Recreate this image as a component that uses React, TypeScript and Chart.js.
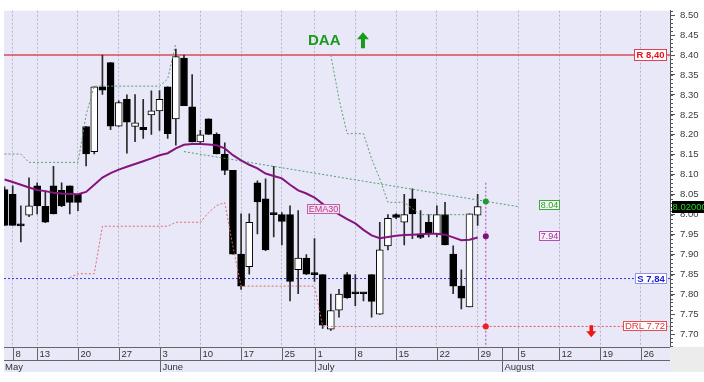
import React, { useEffect, useRef } from "react";
import { Chart, registerables } from "chart.js";

Chart.register(...registerables);

const FONT = '"Liberation Sans", Arial, Helvetica, sans-serif';
const PLOT_BG = "#e8e8f8";
const AXIS = "#555555";

// Trading calendar (visible history + projected weeks)
const tradingDays: string[] = [
  "2019-05-07", "2019-05-08", "2019-05-09", "2019-05-10",
  "2019-05-13", "2019-05-14", "2019-05-15", "2019-05-16", "2019-05-17",
  "2019-05-20", "2019-05-21", "2019-05-22", "2019-05-23", "2019-05-24",
  "2019-05-27", "2019-05-28", "2019-05-29", "2019-05-30", "2019-05-31",
  "2019-06-03", "2019-06-04", "2019-06-05", "2019-06-06", "2019-06-07",
  "2019-06-10", "2019-06-11", "2019-06-12", "2019-06-13", "2019-06-14",
  "2019-06-17", "2019-06-18", "2019-06-19", "2019-06-20", "2019-06-21",
  "2019-06-25", "2019-06-26", "2019-06-27", "2019-06-28",
  "2019-07-01", "2019-07-02", "2019-07-03", "2019-07-04", "2019-07-05",
  "2019-07-08", "2019-07-09", "2019-07-10", "2019-07-11", "2019-07-12",
  "2019-07-15", "2019-07-16", "2019-07-17", "2019-07-18", "2019-07-19",
  "2019-07-22", "2019-07-23", "2019-07-24", "2019-07-25", "2019-07-26",
  "2019-07-29", "2019-07-30", "2019-07-31", "2019-08-01", "2019-08-02",
  "2019-08-05", "2019-08-06", "2019-08-07", "2019-08-08", "2019-08-09",
  "2019-08-12", "2019-08-13", "2019-08-14", "2019-08-15", "2019-08-16",
  "2019-08-19", "2019-08-20", "2019-08-21", "2019-08-22", "2019-08-23",
  "2019-08-26", "2019-08-27", "2019-08-28", "2019-08-29", "2019-08-30",
];

// OHLC, one per trading day from 2019-05-07 to 2019-07-29
const opens = [
  8.063, 8.051, 7.975, 7.999, 8.072, 8.021, 8.072, 8.061, 8.072, 8.051,
  8.221, 8.158, 8.320, 8.381, 8.222, 8.289, 8.221, 8.219, 8.250, 8.260,
  8.320, 8.240, 8.392, 8.270, 8.182, 8.240, 8.201, 8.152, 8.111, 7.901,
  7.870, 8.080, 8.040, 8.003, 8.000, 8.000, 7.862, 7.891, 7.853, 7.850,
  7.713, 7.761, 7.850, 7.805, 7.805, 7.850, 7.751, 7.922, 8.000, 7.981,
  8.040, 7.945, 7.981, 7.952, 8.000, 7.901, 7.821, 7.769, 7.999,
];
const highs = [
  8.070, 8.072, 8.022, 8.092, 8.080, 8.059, 8.121, 8.080, 8.072, 8.051,
  8.221, 8.320, 8.400, 8.381, 8.285, 8.300, 8.301, 8.289, 8.310, 8.311,
  8.320, 8.415, 8.400, 8.351, 8.211, 8.240, 8.205, 8.180, 8.111, 8.002,
  8.002, 8.085, 8.090, 8.121, 8.005, 8.022, 8.010, 7.900, 7.940, 7.850,
  7.801, 7.813, 7.855, 7.850, 7.805, 7.850, 7.981, 8.000, 8.003, 8.051,
  8.065, 8.010, 8.000, 8.022, 8.031, 7.922, 7.862, 8.002, 8.051,
];
const lows = [
  7.973, 7.973, 7.932, 7.995, 8.002, 7.980, 8.002, 8.020, 8.002, 8.010,
  8.122, 8.152, 8.301, 8.213, 8.221, 8.154, 8.183, 8.191, 8.201, 8.211,
  8.191, 8.174, 8.273, 8.182, 8.180, 8.201, 8.152, 8.100, 7.901, 7.813,
  7.851, 7.952, 7.910, 7.944, 7.924, 7.784, 7.802, 7.850, 7.833, 7.715,
  7.710, 7.743, 7.790, 7.772, 7.784, 7.743, 7.750, 7.912, 7.990, 7.924,
  7.940, 7.940, 7.944, 7.944, 7.924, 7.802, 7.764, 7.769, 7.973,
];
const closes = [
  7.973, 7.973, 7.972, 8.022, 8.022, 7.981, 8.002, 8.022, 8.031, 8.031,
  8.152, 8.320, 8.312, 8.222, 8.281, 8.232, 8.230, 8.213, 8.260, 8.289,
  8.203, 8.396, 8.273, 8.182, 8.200, 8.201, 8.152, 8.111, 7.901, 7.821,
  7.981, 8.032, 7.912, 8.000, 7.983, 7.833, 7.891, 7.851, 7.850, 7.723,
  7.760, 7.801, 7.792, 7.802, 7.802, 7.783, 7.912, 7.991, 7.993, 8.000,
  8.002, 7.943, 7.952, 8.000, 7.924, 7.821, 7.791, 8.002, 8.020,
];

const ema30 = [
  8.088, 8.082, 8.075, 8.068, 8.062, 8.059, 8.055, 8.053, 8.052, 8.051,
  8.057, 8.075, 8.093, 8.104, 8.113, 8.120, 8.127, 8.134, 8.141, 8.149,
  8.154, 8.166, 8.175, 8.177, 8.177, 8.176, 8.174, 8.166, 8.149, 8.136,
  8.125, 8.116, 8.103, 8.097, 8.091, 8.075, 8.061, 8.053, 8.043, 8.027,
  8.013, 8.001, 7.989, 7.978, 7.962, 7.948, 7.941, 7.944, 7.947, 7.949,
  7.950, 7.951, 7.952, 7.952, 7.950, 7.943, 7.936, 7.937, 7.943,
];

const upperStop: (number | null)[] = [
  8.152, 8.152, 8.152, 8.131, 8.131, 8.131, 8.131, 8.131, 8.131, 8.131,
  8.250, 8.322, 8.322, 8.322, 8.322, 8.322, 8.322, 8.322, 8.322, 8.322,
  8.340, 8.430, null, null, null, null, null, null, null, null,
  null, null, null, null, null, null, null, null, null, null,
  8.400, 8.290, 8.203, 8.203, 8.203, 8.140, 8.090, 8.031, 8.031, 8.031,
  8.015, 8.000, 8.000, 8.000, 8.000, 8.000, 8.000, 8.000, null,
];

const lowerStop: (number | null)[] = [
  null, null, null, null, null, null, null, null, 7.842, 7.852,
  7.852, 7.852, 7.971, 7.971, 7.971, 7.971, 7.971, 7.971, 7.971, 7.971,
  7.971, 7.981, 7.981, 7.981, 7.981, 8.005, 8.023, 8.030, 7.920, 7.821,
  7.821, 7.821, 7.821, 7.821, 7.821, 7.821, 7.821, 7.821, 7.821, 7.720,
  7.720, 7.720, 7.720, 7.720, 7.720, 7.720, 7.720, 7.720, 7.720, 7.720,
  7.720, 7.720, 7.720, 7.720, 7.720, 7.720, 7.720, 7.720, 7.720,
];

const trendDates = ["2019-06-06", "2019-08-05"];
const trendValues = [8.158, 8.02];

const resistanceLevel = 8.4;
const supportLevel = 7.84;
const drlLevel = 7.72;
const lastPrice = 8.02;

const projectionDate = "2019-07-30";
const projectionValues = [8.033, 7.946, 7.72];
const projectionColors = ["#1f9a35", "#7d137a", "#ee2020"];
const projectionTop = 8.08;
const projTrendLabel = "8.04";
const projEmaLabel = "7.94";

const yTicks = [7.7, 7.75, 7.8, 7.85, 7.9, 7.95, 8.0, 8.05, 8.1, 8.15, 8.2, 8.25, 8.3, 8.35, 8.4, 8.45, 8.5];
const dayTickDates = [
  "2019-05-08", "2019-05-13", "2019-05-20", "2019-05-27", "2019-06-03", "2019-06-10",
  "2019-06-17", "2019-06-25", "2019-07-01", "2019-07-08", "2019-07-15", "2019-07-22",
  "2019-07-29", "2019-08-05", "2019-08-12", "2019-08-19", "2019-08-26",
];
const dayTickLabels = ["8", "13", "20", "27", "3", "10", "17", "25", "1", "8", "15", "22", "29", "5", "12", "19", "26"];
const monthStartDates = ["2019-05-07", "2019-06-03", "2019-07-01", "2019-08-01"];
const monthLabels = ["May", "June", "July", "August"];

const Y_MIN = 7.6685;
const Y_MAX = 8.511;
const X_MIN = -0.066;
const X_MAX = 81.58;

const di = (d: string) => tradingDays.indexOf(d);

function labelBox(ctx: CanvasRenderingContext2D, text: string, o: any) {
  ctx.font = o.font;
  const tw = ctx.measureText(text).width;
  const w = Math.round(tw + 2 * o.padX);
  const h = o.h;
  const x0 = Math.round(o.right !== undefined ? o.right - w : o.cx - w / 2);
  const y0 = Math.round(o.cy - h / 2);
  ctx.fillStyle = o.bg;
  ctx.fillRect(x0, y0, w, h);
  ctx.setLineDash(o.dash || []);
  ctx.strokeStyle = o.border;
  ctx.lineWidth = 1;
  ctx.strokeRect(x0 + 0.5, y0 + 0.5, w - 1, h - 1);
  ctx.setLineDash([]);
  ctx.fillStyle = o.color;
  ctx.textAlign = "center";
  ctx.textBaseline = "middle";
  ctx.fillText(text, x0 + w / 2, y0 + h / 2 + 0.5);
}

function arrow(ctx: CanvasRenderingContext2D, x: number, yTip: number, yTail: number, color: string, headHalf: number, shaftHalf: number, headLen: number) {
  const dir = yTail > yTip ? 1 : -1;
  ctx.fillStyle = color;
  ctx.beginPath();
  ctx.moveTo(x, yTip);
  ctx.lineTo(x + headHalf, yTip + dir * headLen);
  ctx.lineTo(x + shaftHalf, yTip + dir * headLen);
  ctx.lineTo(x + shaftHalf, yTail);
  ctx.lineTo(x - shaftHalf, yTail);
  ctx.lineTo(x - shaftHalf, yTip + dir * headLen);
  ctx.lineTo(x - headHalf, yTip + dir * headLen);
  ctx.closePath();
  ctx.fill();
}

const decorPlugin = {
  id: "decor",
  beforeDraw(chart: any) {
    const { ctx, chartArea: ca, width, height } = chart;
    ctx.save();
    ctx.fillStyle = "#ffffff";
    ctx.fillRect(0, 0, width, height);
    ctx.fillStyle = PLOT_BG;
    ctx.fillRect(ca.left, ca.top, ca.right - ca.left, ca.bottom - ca.top);
    ctx.restore();
  },
  afterDraw(chart: any) {
    const { ctx, chartArea: ca } = chart;
    const xs = chart.scales.x;
    const ys = chart.scales.y;
    const px = (i: number) => Math.round(xs.getPixelForValue(i)) + 0.5;
    ctx.save();

    // minor ticks on the price axis
    ctx.strokeStyle = AXIS;
    ctx.lineWidth = 1;
    for (let k = Math.ceil(Y_MIN * 100); k <= Math.floor(Y_MAX * 100); k++) {
      const yy = Math.round(ys.getPixelForValue(k / 100)) + 0.5;
      ctx.beginPath();
      ctx.moveTo(ca.right, yy);
      ctx.lineTo(ca.right + 3, yy);
      ctx.stroke();
    }

    // date rows
    const r0 = ca.bottom;
    const r1 = r0 + 13;
    const r2 = r1 + 12;
    ctx.fillStyle = PLOT_BG;
    ctx.fillRect(ca.left, r0, ca.right - ca.left, r2 - r0);
    ctx.fillStyle = "#ececec";
    ctx.fillRect(ca.right, r0, chart.width - ca.right, r2 - r0);
    ctx.strokeStyle = "#666666";
    for (const yy of [r0, r1]) {
      ctx.beginPath();
      ctx.moveTo(ca.left, yy + 0.5);
      ctx.lineTo(ca.right, yy + 0.5);
      ctx.stroke();
    }
    ctx.font = `9.5px ${FONT}`;
    ctx.fillStyle = "#333333";
    ctx.textAlign = "left";
    ctx.textBaseline = "middle";
    dayTickDates.forEach((d, k) => {
      const xx = px(di(d));
      ctx.beginPath();
      ctx.moveTo(xx, r0);
      ctx.lineTo(xx, r1);
      ctx.stroke();
      ctx.fillText(dayTickLabels[k], xx + 2, (r0 + r1) / 2 + 1);
    });
    monthStartDates.forEach((d, k) => {
      if (k === 0) {
        ctx.fillText(monthLabels[k], ca.left + 1, (r1 + r2) / 2 + 1);
        return;
      }
      const xx = px(di(d));
      ctx.beginPath();
      ctx.moveTo(xx, r0);
      ctx.lineTo(xx, r2);
      ctx.stroke();
      ctx.fillText(monthLabels[k], xx + 2, (r1 + r2) / 2 + 1);
    });

    // level labels
    const right = ca.right - 3;
    const fmtComma = (v: number) => v.toFixed(2).replace(".", ",");
    labelBox(ctx, `R ${fmtComma(resistanceLevel)}`, {
      font: `bold 9.5px ${FONT}`, padX: 2.5, h: 12, right, cy: ys.getPixelForValue(resistanceLevel),
      bg: "#ffffff", border: "#e04050", color: "#e8101a",
    });
    labelBox(ctx, `S ${fmtComma(supportLevel)}`, {
      font: `bold 9.5px ${FONT}`, padX: 2.5, h: 11, right, cy: ys.getPixelForValue(supportLevel),
      bg: "#ffffff", border: "#2a2ae0", color: "#1a1adf", dash: [1, 1],
    });
    labelBox(ctx, `DRL ${drlLevel.toFixed(2)}`, {
      font: `9.5px ${FONT}`, padX: 2, h: 10, right, cy: ys.getPixelForValue(drlLevel),
      bg: "#ffffff", border: "#e05050", color: "#e83030",
    });
    const pbx = xs.getPixelForValue(66.75);
    labelBox(ctx, projTrendLabel, {
      font: `9px ${FONT}`, padX: 1.5, h: 10, cx: pbx, cy: ys.getPixelForValue(projectionValues[0]) + 3.5,
      bg: "#f3fbf3", border: "#3aaa3a", color: "#2a9a2a",
    });
    labelBox(ctx, projEmaLabel, {
      font: `9px ${FONT}`, padX: 1.5, h: 10, cx: pbx, cy: ys.getPixelForValue(projectionValues[1]),
      bg: "#fbf1fb", border: "#b050b0", color: "#a02a9a",
    });
    labelBox(ctx, "EMA30", {
      font: `9px ${FONT}`, padX: 1.5, h: 10, cx: xs.getPixelForValue(39.16), cy: ys.getPixelForValue(8.0133),
      bg: "#f6dff0", border: "#c060a8", color: "#b03a90",
    });

    // DAA signal
    ctx.font = `bold 15px ${FONT}`;
    ctx.fillStyle = "#1a9a1a";
    ctx.textAlign = "center";
    ctx.textBaseline = "middle";
    ctx.fillText("DAA", xs.getPixelForValue(39.19), ys.getPixelForValue(8.437) + 1);
    arrow(ctx, xs.getPixelForValue(43.94), ys.getPixelForValue(8.4567), ys.getPixelForValue(8.417), "#1a9a1a", 6, 2, 7);
    arrow(ctx, xs.getPixelForValue(71.93), ys.getPixelForValue(7.6931), ys.getPixelForValue(7.7227), "#ee1515", 5, 1.8, 6);

    // last price tag on the axis
    const ly = Math.round(ys.getPixelForValue(lastPrice));
    ctx.fillStyle = "#000000";
    ctx.fillRect(ca.right + 2, ly - 6, chart.width - ca.right - 2, 12);
    ctx.font = `9.5px ${FONT}`;
    ctx.fillStyle = "#22dd22";
    ctx.textAlign = "left";
    ctx.fillText(lastPrice.toFixed(5), ca.right + 2.5, ly + 0.5);

    ctx.restore();
  },
};

export default function App() {
  const ref = useRef<HTMLCanvasElement>(null);

  useEffect(() => {
    const canvas = ref.current;
    if (!canvas) return;
    Chart.defaults.font.family = FONT;

    const body = closes.map((c, i) => ({ x: i, y: [opens[i], c] }));
    const wick = closes.map((_, i) => ({ x: i, y: [lows[i], highs[i]] }));
    const bodyColors = closes.map((c, i) => (c >= opens[i] ? "#ffffff" : "#000000"));
    const pIdx = di(projectionDate);

    const chart = new Chart(canvas, {
      type: "bar",
      data: {
        datasets: [
          {
            type: "line", label: "R", data: [{ x: X_MIN, y: resistanceLevel }, { x: X_MAX, y: resistanceLevel }],
            borderColor: "#dc4a5a", borderWidth: 1.5, pointRadius: 0, order: 20,
          },
          {
            type: "line", label: "S", data: [{ x: X_MIN, y: supportLevel }, { x: X_MAX, y: supportLevel }],
            borderColor: "#3a3ae0", borderWidth: 1, borderDash: [2, 2], pointRadius: 0, order: 20,
          },
          {
            type: "line", label: "DRL", data: [{ x: closes.length - 1, y: drlLevel }, { x: X_MAX, y: drlLevel }],
            borderColor: "#e05a5a", borderWidth: 1, borderDash: [2, 2], pointRadius: 0, order: 20,
          },
          {
            type: "bar", label: "wick", data: wick, backgroundColor: "#2a2a2a", borderWidth: 0,
            barThickness: 1, grouped: false, order: 15,
          },
          {
            type: "bar", label: "body", data: body, backgroundColor: bodyColors, borderColor: "#000000",
            borderWidth: 1, borderSkipped: false, barThickness: 7, grouped: false, minBarLength: 2, order: 14,
          },
          {
            type: "line", label: "upper", data: upperStop.map((v, i) => ({ x: i, y: v })),
            borderColor: "#5f9f6a", borderWidth: 1, borderDash: [2, 2], pointRadius: 0, spanGaps: false, order: 6,
          },
          {
            type: "line", label: "lower", data: lowerStop.map((v, i) => ({ x: i, y: v })),
            borderColor: "#e06a6a", borderWidth: 1, borderDash: [2, 2], pointRadius: 0, spanGaps: false, order: 6,
          },
          {
            type: "line", label: "trend", data: trendDates.map((d, k) => ({ x: di(d), y: trendValues[k] })),
            borderColor: "#4f9f6f", borderWidth: 1, borderDash: [2, 2], pointRadius: 0, order: 6,
          },
          {
            type: "line", label: "projection", data: [{ x: pIdx, y: projectionTop }, { x: pIdx, y: Y_MIN }],
            borderColor: "#b04ab0", borderWidth: 1, borderDash: [2, 2], pointRadius: 0, order: 5,
          },
          {
            type: "line", label: "EMA30", data: ema30.map((v, i) => ({ x: i, y: v })),
            borderColor: "#86147f", borderWidth: 2, pointRadius: 0, order: 3,
          },
          {
            type: "line", label: "markers", data: projectionValues.map((v) => ({ x: pIdx, y: v })),
            showLine: false, pointRadius: 3, pointBorderWidth: 0,
            pointBackgroundColor: projectionColors, pointBorderColor: projectionColors, order: 1,
          },
        ] as any,
      },
      options: {
        animation: false,
        responsive: false,
        devicePixelRatio: 1,
        events: [],
        layout: { padding: { left: 4, top: 5, right: 0, bottom: 0 } },
        plugins: { legend: { display: false }, tooltip: { enabled: false } },
        scales: {
          x: {
            type: "linear",
            min: X_MIN,
            max: X_MAX,
            offset: false,
            position: "bottom",
            afterBuildTicks: (axis: any) => {
              axis.ticks = dayTickDates.map((d) => ({ value: di(d) }));
            },
            afterFit: (axis: any) => {
              axis.height = 35;
            },
            ticks: { display: false },
            grid: { offset: false, drawTicks: false, color: "#b6b6ca", lineWidth: 1 },
            border: { display: false, dash: [2, 2] },
          },
          y: {
            type: "linear",
            position: "right",
            min: Y_MIN,
            max: Y_MAX,
            beginAtZero: false,
            afterBuildTicks: (axis: any) => {
              axis.ticks = yTicks.map((v) => ({ value: v }));
            },
            afterFit: (axis: any) => {
              axis.width = 34;
            },
            ticks: {
              autoSkip: false,
              padding: 5,
              color: "#3a3a3a",
              font: { family: FONT, size: 9.5 },
              callback: (v: any) => Number(v).toFixed(2),
            },
            grid: { drawOnChartArea: false, tickLength: 5, color: AXIS, tickColor: AXIS },
            border: { display: true, color: AXIS, width: 1 },
          },
        },
      } as any,
      plugins: [decorPlugin],
    });

    return () => chart.destroy();
  }, []);

  return (
    <div style={{ position: "absolute", left: 0, top: 0, width: 704, height: 382, background: "#ffffff" }}>
      <canvas ref={ref} width={704} height={382} style={{ width: 704, height: 382, display: "block" }} />
    </div>
  );
}
